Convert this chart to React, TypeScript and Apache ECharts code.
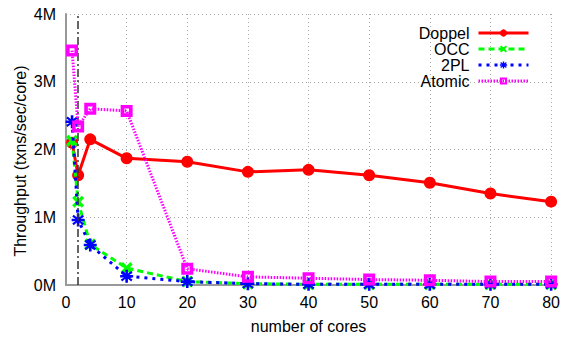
import React, { useEffect, useRef } from "react";
import * as echarts from "echarts";

const cores = [1, 2, 4, 10, 20, 30, 40, 50, 60, 70, 80];
const doppel = [2.1, 1.62, 2.15, 1.87, 1.82, 1.67, 1.7, 1.62, 1.51, 1.35, 1.23];
const occ = [2.13, 1.23, 0.6, 0.25, 0.05, 0.02, 0.01, 0.01, 0.01, 0.01, 0.01];
const twoPL = [2.41, 0.96, 0.59, 0.13, 0.05, 0.02, 0.01, 0.01, 0.01, 0.01, 0.01];
const atomic = [3.46, 2.34, 2.6, 2.57, 0.24, 0.12, 0.1, 0.08, 0.07, 0.05, 0.05];
const seriesNames = ["Doppel", "OCC", "2PL", "Atomic"];
const xTicks = { min: 0, max: 80, interval: 10 };
const yTicks = { min: 0, max: 4, interval: 1 };
const markerX = 2;
const yTitle = "Throughput (txns/sec/core)";

const FONT = "Liberation Sans";

const crossPath = "path://M0,2 L2,0 L5,3 L8,0 L10,2 L7,5 L10,8 L8,10 L5,7 L2,10 L0,8 L3,5 Z";
const starPath =
  "path://M4,0 L6,0 L6,3 L8.5,1 L9.5,2.5 L7,4 L10,4 L10,6 L7,6 L9.5,7.5 L8.5,9 L6,7 L6,10 L4,10 L4,7 L1.5,9 L0.5,7.5 L3,6 L0,6 L0,4 L3,4 L0.5,2.5 L1.5,1 L4,3 Z";
const boxPath = "path://M0,0 L10,0 L10,10 L0,10 Z M3,3 L3,7 L7,7 L7,3 Z";

const toPairs = (ys: number[]) => cores.map((x, i) => [x, ys[i]]);

export default function App() {
  const ref = useRef<HTMLDivElement>(null);
  useEffect(() => {
    if (!ref.current) return;
    const chart = echarts.init(ref.current, null, { renderer: "svg" });
    chart.setOption({
      animation: false,
      textStyle: { fontFamily: FONT },
      grid: { left: 66, right: 9, top: 14, bottom: 52 },
      graphic: [
        {
          type: "text",
          x: 20,
          y: 161,
          rotation: Math.PI / 2,
          style: {
            text: yTitle,
            fontFamily: FONT,
            fontSize: 16,
            fill: "#000",
            textAlign: "center",
            textVerticalAlign: "middle",
          },
        },
      ],
      legend: {
        orient: "vertical",
        right: 28,
        top: 20,
        align: "right",
        itemWidth: 50,
        itemHeight: 9,
        itemGap: 0,
        lineStyle: { width: 3 },
        textStyle: { fontFamily: FONT, fontSize: 16, lineHeight: 16, color: "#000", padding: [0, 4, 0, 0] },
        data: seriesNames,
      },
      xAxis: {
        type: "value",
        ...xTicks,
        name: "number of cores",
        nameLocation: "middle",
        nameGap: 33,
        nameTextStyle: { fontFamily: FONT, fontSize: 16, color: "#000" },
        axisLine: { show: true, lineStyle: { color: "#999", width: 2 } },
        axisTick: { show: false },
        axisLabel: { fontFamily: FONT, fontSize: 16, color: "#000", margin: 9 },
        splitLine: { show: true, lineStyle: { color: "#aaa", type: [1, 3], width: 1 } },
      },
      yAxis: {
        type: "value",
        ...yTicks,
        axisLine: { show: true, lineStyle: { color: "#999", width: 2 } },
        axisTick: { show: false },
        axisLabel: { fontFamily: FONT, fontSize: 16, color: "#000", margin: 10, formatter: "{value}M" },
        splitLine: { show: true, lineStyle: { color: "#aaa", type: [1, 3], width: 1 } },
      },
      series: [
        {
          name: "Doppel",
          type: "line",
          data: toPairs(doppel),
          color: "#ff0000",
          symbol: "circle",
          symbolSize: 12,
          lineStyle: { width: 3, color: "#ff0000" },
          itemStyle: { color: "#ff0000" },
          z: 2,
          markLine: {
            silent: true,
            symbol: "none",
            label: { show: false },
            lineStyle: { color: "#333", width: 1.5, type: [8, 3, 2, 3] },
            data: [{ xAxis: markerX }],
          },
        },
        {
          name: "OCC",
          type: "line",
          data: toPairs(occ),
          color: "#00ff00",
          symbol: crossPath,
          symbolSize: 12,
          lineStyle: { width: 3, color: "#00ff00", type: [6, 4] },
          itemStyle: { color: "#00ff00" },
          z: 3,
        },
        {
          name: "2PL",
          type: "line",
          data: toPairs(twoPL),
          color: "#0000ff",
          symbol: starPath,
          symbolSize: 13,
          lineStyle: { width: 3, color: "#0000ff", type: [3, 5] },
          itemStyle: { color: "#0000ff" },
          z: 4,
        },
        {
          name: "Atomic",
          type: "line",
          data: toPairs(atomic),
          color: "#ff00ff",
          symbol: boxPath,
          symbolSize: 12,
          lineStyle: { width: 3, color: "#ff00ff", type: [1.5, 1.5] },
          itemStyle: { color: "#ff00ff" },
          z: 5,
        },
      ],
    });
    return () => chart.dispose();
  }, []);
  return <div ref={ref} style={{ width: 563, height: 339, position: "absolute", left: 0, top: 0, background: "#fff" }} />;
}
